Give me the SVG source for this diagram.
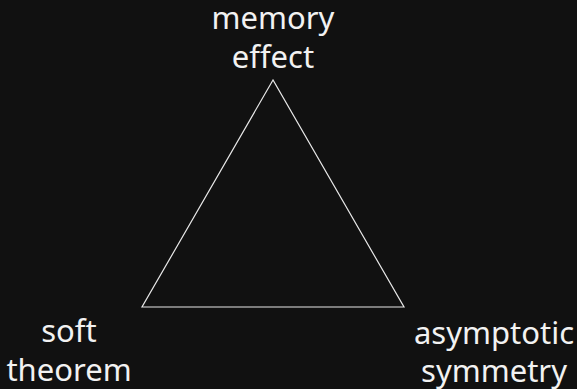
<svg xmlns="http://www.w3.org/2000/svg" width="577" height="389" viewBox="0 0 577 389">
<style>
text{font-family:"Noto Sans","Open Sans",sans-serif;font-size:31px;fill:#f2f2f2;text-anchor:middle}
.edge{fill:none;stroke:#e8e8e8;stroke-width:1.2}
</style>
<rect width="577" height="389" fill="#111111"/>
<g id="connectors">
<path class="edge" d="M273,80 L142,307 L404,307 Z"/>
</g>
<g id="memory-effect"><text x="273" y="29">memory</text><text x="273" y="68">effect</text></g>
<g id="soft-theorem"><text x="69" y="342">soft</text><text x="69" y="381">theorem</text></g>
<g id="asymptotic-symmetry"><text x="494" y="344">asymptotic</text><text x="494" y="382">symmetry</text></g>
</svg>
